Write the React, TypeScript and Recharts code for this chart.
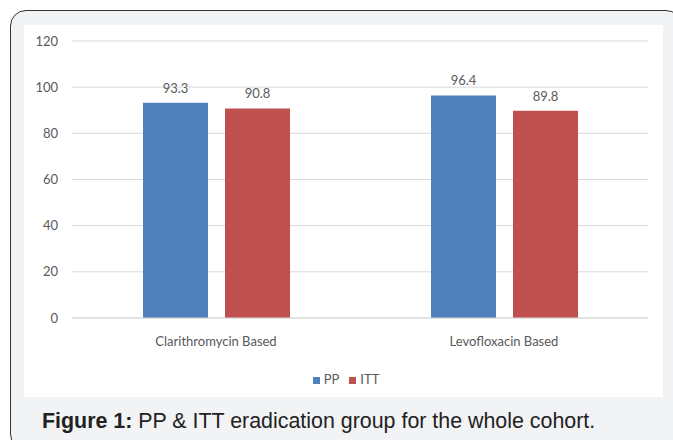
import { BarChart, Bar, XAxis, YAxis, CartesianGrid, Legend, LabelList } from "recharts";

const categories = ["Clarithromycin Based", "Levofloxacin Based"];
const ppValues = [93.3, 96.4];
const ittValues = [90.8, 89.8];
const yTicks = [0, 20, 40, 60, 80, 100, 120];
const seriesOrder = ["PP", "ITT"];

const data = categories.map((name, i) => ({ name, PP: ppValues[i], ITT: ittValues[i] }));

const FONT = "Lato, 'Open Sans', sans-serif";
const TXT = "#595959";

export default function App() {
  return (
    <div style={{ position: "fixed", left: 0, top: 0, width: 673, height: 440, background: "#fff", overflow: "hidden" }}>
      <div
        style={{
          position: "absolute",
          left: 10,
          top: 10,
          width: 672,
          height: 440,
          border: "1.5px solid #333",
          borderRadius: 16,
          background: "#f2f3f5",
          boxSizing: "border-box",
        }}
      />
      <div style={{ position: "absolute", left: 24, top: 25, width: 639, height: 372, background: "#fff" }}>
        <BarChart
          width={639}
          height={372}
          data={data}
          margin={{ top: 16, right: 15, left: 0, bottom: 33 }}
          barSize={65}
          barGap={17}
          style={{ fontFamily: FONT }}
        >
          <CartesianGrid vertical={false} stroke="#d9d9d9" />
          <XAxis
            dataKey="name"
            height={30}
            tickLine={false}
            tickSize={0}
            tickMargin={19}
            axisLine={{ stroke: "#d9d9d9" }}
            tick={{ fill: TXT, fontSize: 13, fontFamily: FONT }}
          />
          <YAxis
            width={48}
            domain={[0, 120]}
            ticks={yTicks}
            axisLine={false}
            tickLine={false}
            tickSize={0}
            tickMargin={14}
            tick={{ fill: TXT, fontSize: 13, fontFamily: FONT }}
          />
          <Legend
            verticalAlign="bottom"
            iconType="square"
            iconSize={7}
            itemSorter={(item: any) => seriesOrder.indexOf(item.dataKey)}
            wrapperStyle={{ bottom: 10, left: 15, fontSize: 13, fontFamily: FONT }}
            formatter={(v: string) => <span style={{ color: TXT }}>{v}</span>}
          />
          <Bar dataKey="PP" fill="#4f81bd" isAnimationActive={false}>
            <LabelList dataKey="PP" position="top" offset={10} fill={TXT} fontSize={13} fontFamily={FONT} />
          </Bar>
          <Bar dataKey="ITT" fill="#c0504d" isAnimationActive={false}>
            <LabelList dataKey="ITT" position="top" offset={10} fill={TXT} fontSize={13} fontFamily={FONT} />
          </Bar>
        </BarChart>
      </div>
      <div
        style={{
          position: "absolute",
          left: 42,
          top: 409,
          fontFamily: "'Liberation Sans', Arial, sans-serif",
          fontSize: 21.4,
          color: "#222",
          whiteSpace: "nowrap",
        }}
      >
        <b>Figure 1:</b> PP &amp; ITT eradication group for the whole cohort.
      </div>
    </div>
  );
}
